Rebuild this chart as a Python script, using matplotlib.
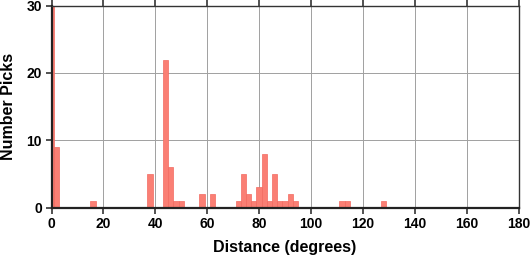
import matplotlib
matplotlib.use("Agg")
import matplotlib.pyplot as plt

# Histogram: bin centres (degrees, 2-degree bins) and pick counts
bin_centers = [0, 2, 16, 38, 44, 46, 48, 50, 58, 62, 72, 74, 76, 78, 80, 82,
               84, 86, 88, 90, 92, 94, 112, 114, 128]
counts = [34, 9, 1, 5, 22, 6, 1, 1, 2, 2, 1, 5, 2, 1, 3, 8,
          1, 5, 1, 1, 2, 1, 1, 1, 1]
x_ticks = [0, 20, 40, 60, 80, 100, 120, 140, 160, 180]
y_ticks = [0, 10, 20, 30]

plt.rcParams['font.family'] = ['Liberation Sans', 'DejaVu Sans']
plt.rcParams['font.weight'] = 'bold'

fig = plt.figure(figsize=(5.30, 2.58), dpi=100)
ax = fig.add_axes([51.5 / 530, 1 - 207.5 / 258, (518.5 - 51.5) / 530, (207.5 - 5.7) / 258])

ax.bar(bin_centers, counts, width=2, facecolor='#fa7f74', edgecolor='#f26a60',
       linewidth=0.5, zorder=2)

ax.set_xlim(0, 180)
ax.set_ylim(0, 30)
ax.set_xticks(x_ticks)
ax.set_yticks(y_ticks)
ax.grid(True, color='#a0a0a0', linewidth=0.7, zorder=0)
ax.set_axisbelow(True)

for side in ['left', 'bottom']:
    ax.spines[side].set_linewidth(1.6)
    ax.spines[side].set_color('#222222')
for side in ['top', 'right']:
    ax.spines[side].set_linewidth(1.0)
    ax.spines[side].set_color('#333333')

ax.tick_params(axis='both', which='both', direction='out', length=4, width=1.2,
               colors='#333333', labelcolor='black', labelsize=10, pad=3)
ax.tick_params(axis='x', top=True, labeltop=False)
ax.tick_params(axis='x', which='both', top=True, length=4)
for lab in ax.get_xticklabels() + ax.get_yticklabels():
    lab.set_fontweight('bold')

ax.set_xlabel('Distance (degrees)', fontsize=11.5, fontweight='bold')
ax.set_ylabel('Number Picks', fontsize=11.5, fontweight='bold')
ax.xaxis.set_label_coords(0.5, -0.163)
ax.yaxis.set_label_coords(-0.077, 0.5)

fig.savefig('out.png', dpi=100)
